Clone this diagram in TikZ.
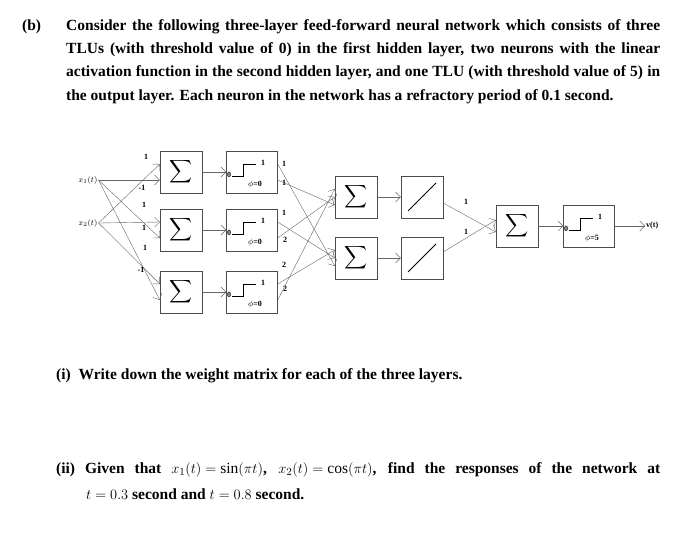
\documentclass[tikz,border=0pt]{standalone}
\usepackage{fontspec}
\setmainfont{Liberation Serif}
\usetikzlibrary{arrows.meta}
\newcommand{\jbox}[2]{\makebox[#1][s]{#2}}
\tikzset{
  box/.style={draw=black!70, minimum width=42pt, minimum height=42pt, inner sep=0pt},
  sbox/.style={box, minimum width=51pt},
  wire/.style={draw=black!60, -{Straight Barb[length=5pt]}},
  wt/.style={font=\bfseries\footnotesize, inner sep=1pt},
  lbl/.style={font=\bfseries\footnotesize, inner sep=1pt},
  qtext/.style={anchor=west, inner sep=0pt, font=\fontsize{15.5}{17}\selectfont\bfseries},
}
\newcommand{\sumsym}{\scalebox{1.6}{$\displaystyle\sum$}}
\begin{document}
\begin{tikzpicture}[x=1pt,y=-1pt]
\useasboundingbox (0,0) rectangle (700,552);
% question text
\node[qtext] (b) at (22,27) {(b)};
\node[qtext] (l1) at (66,27) {\jbox{594pt}{Consider the following three-layer feed-forward neural network which consists of three}};
\node[qtext] (l2) at (66,50) {\jbox{594pt}{TLUs (with threshold value of 0) in the first hidden layer, two neurons with the linear}};
\node[qtext] (l3) at (66,73) {\jbox{594pt}{activation function in the second hidden layer, and one TLU (with threshold value of 5) in}};
\node[qtext] (l4) at (66,97) {the output layer. Each neuron in the network has a refractory period of 0.1 second.};
% inputs
\node[lbl] (x1) at (88,180) {$x_1(t)$};
\node[lbl] (x2) at (88,223) {$x_2(t)$};
% first layer
\foreach \i/\y in {1/172,2/230,3/292}{
  \node[box] (s\i) at (181,\y) {\sumsym};
  \node[sbox] (t\i) at (252,\y) {};
  \draw[wire] (s\i) -- (t\i);
  \draw[thick] ([shift={(-20,4)}]t\i.center) -- ++(11,0) -- ++(0,-12) -- ++(13,0);
  \node[lbl] at ([shift={(-23,3)}]t\i.center) {0};
  \node[lbl] at ([shift={(11,-9)}]t\i.center) {1};
  \node[lbl] at ([shift={(3,12)}]t\i.center) {$\phi$=0};
}
% second layer
\foreach \j/\y in {1/197,2/258}{
  \node[box] (h\j) at (356,\y) {\sumsym};
  \node[box] (g\j) at (422,\y) {};
  \draw[wire] (h\j) -- (g\j);
  \draw[thick] ([shift={(-14,14)}]g\j.center) -- ++(28,-28);
}
% output layer
\node[box] (o) at (517,226) {\sumsym};
\node[sbox] (ot) at (589,226) {};
\draw[wire] (o) -- (ot);
\draw[thick] ([shift={(-20,4)}]ot.center) -- ++(11,0) -- ++(0,-12) -- ++(13,0);
\node[lbl] at ([shift={(-23,3)}]ot.center) {0};
\node[lbl] at ([shift={(11,-9)}]ot.center) {1};
\node[lbl] at ([shift={(3,12)}]ot.center) {$\phi$=5};
\coordinate (v) at (645,226);
\node[lbl, anchor=west] (vt) at (v) {v(t)};
\draw[wire] (ot) -- (v);
% connectors
\draw[wire] (x1.east) -- ([yshift=-8]s1.west);
\draw[wire] (x2.east) -- ([yshift=8]s1.west);
\draw[wire] (x1.east) -- ([yshift=-8]s2.west);
\draw[wire] (x2.east) -- ([yshift=8]s2.west);
\draw[wire] (x1.east) -- ([yshift=-8]s3.west);
\draw[wire] (x2.east) -- ([yshift=8]s3.west);
\draw[wire] ([yshift=-8]t1.east) -- ([yshift=-8]h1.west);
\draw[wire] ([yshift=8]t1.east) -- ([yshift=-8]h2.west);
\draw[wire] ([yshift=-8]t2.east) -- (h1.west);
\draw[wire] ([yshift=8]t2.east) -- (h2.west);
\draw[wire] ([yshift=-8]t3.east) -- ([yshift=8]h1.west);
\draw[wire] ([yshift=8]t3.east) -- ([yshift=8]h2.west);
\draw[wire] ([yshift=-6]g1.east) -- ([yshift=-6]o.west);
\draw[wire] ([yshift=6]g2.east) -- ([yshift=6]o.west);
% weights
\foreach \x/\y/\w in {146/157/1, 142/188/-1, 144/205/1, 144/228/1, 145/248/1, 141/270/-1,
  284/164/1, 284/183/1, 284/213/1, 285/240/2, 284/265/2, 285/289/2, 466/202/1, 466/232/1}
  \node[wt] at (\x,\y) {\w};
% sub-questions
\node[qtext] (qi) at (56,376) {(i)\ \ Write down the weight matrix for each of the three layers.};
\node[qtext] (qii) at (56,470) {\jbox{604pt}{(ii) Given that ${x_1(t)=\sin(\pi t)}$, ${x_2(t)=\cos(\pi t)}$, find the responses of the network at}};
\node[qtext] (qiii) at (86,494) {$t=0.3$ second and $t=0.8$ second.};
\end{tikzpicture}
\end{document}
